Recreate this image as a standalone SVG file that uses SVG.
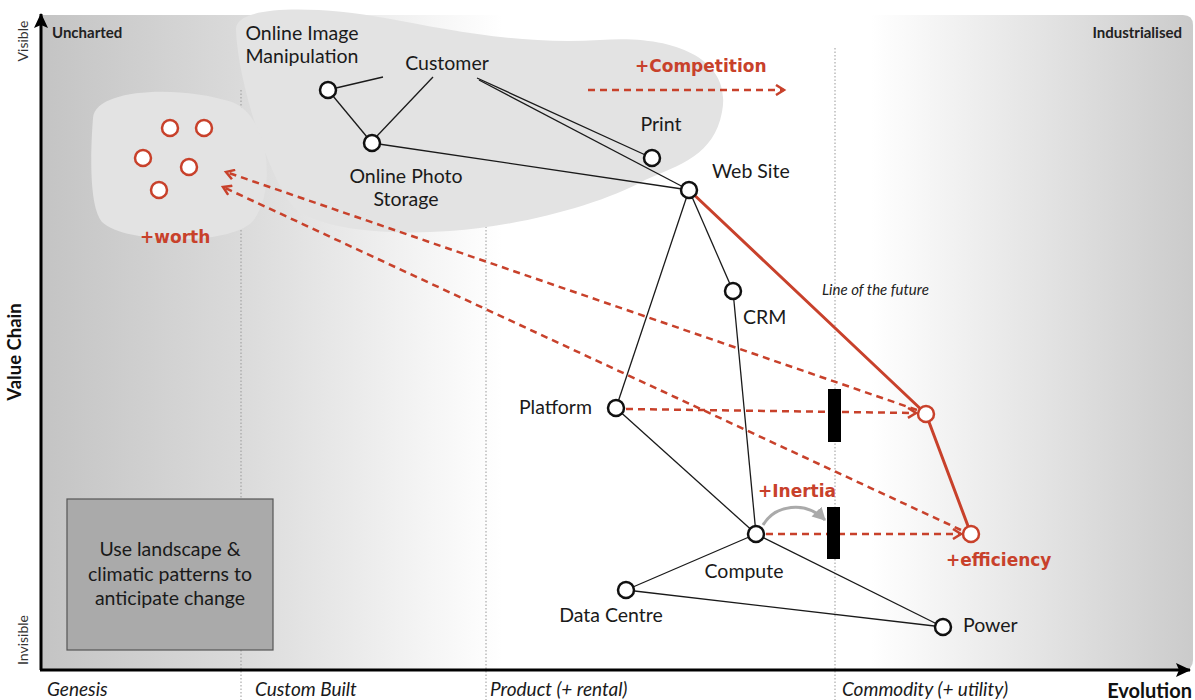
<svg xmlns="http://www.w3.org/2000/svg" width="1195" height="700" viewBox="0 0 1195 700">
<style>
.lbl{font-family:Lato,"Open Sans","DejaVu Sans",sans-serif;font-size:19.5px;fill:#1a1a1a}
.ax{font-family:Lato,"Open Sans","DejaVu Sans",sans-serif;font-size:19px;font-style:italic;fill:#1a1a1a}
.red{font-family:"DejaVu Sans","Liberation Sans",sans-serif;font-weight:bold;font-size:17px;fill:#c8412b}
.edge{stroke:#1a1a1a;stroke-width:1.3;fill:none}
.node{fill:#fff;stroke:#111;stroke-width:2.5}
.rnode{fill:#fff;stroke:#c8412b;stroke-width:2.5}
.dash{stroke:#c8412b;stroke-width:2.5;stroke-dasharray:7,5;fill:none}
.sep{stroke:#999;stroke-width:1;stroke-dasharray:1.5,2}
.corner{font-family:Lato,"Open Sans","DejaVu Sans",sans-serif;font-size:15px;font-weight:bold;fill:#222}
</style>
<defs>
<linearGradient id="bg" x1="42" y1="0" x2="1193" y2="0" gradientUnits="userSpaceOnUse">
<stop offset="0" stop-color="#c4c4c4"/>
<stop offset="0.17" stop-color="#dadada"/>
<stop offset="0.33" stop-color="#f4f4f4"/>
<stop offset="0.4" stop-color="#ffffff"/>
<stop offset="0.72" stop-color="#ffffff"/>
<stop offset="1" stop-color="#cbcbcb"/>
</linearGradient>
<marker id="ra" markerWidth="12" markerHeight="12" refX="9" refY="6" orient="auto" markerUnits="userSpaceOnUse">
<path d="M1,1 L9,6 L1,11" fill="none" stroke="#c8412b" stroke-width="2.5"/>
</marker>
<marker id="ga" markerWidth="16" markerHeight="16" refX="12" refY="8" orient="auto" markerUnits="userSpaceOnUse">
<path d="M0,1 L13,8 L0,15 Z" fill="#aaa"/>
</marker>
<marker id="ka" markerWidth="16" markerHeight="14" refX="14" refY="7" orient="auto" markerUnits="userSpaceOnUse">
<path d="M0,0 L15,7 L0,14 L3,7 Z" fill="#000"/>
</marker>
</defs>

<g id="background">
<path d="M42,15 H1183 Q1193,15 1193,25 V660 Q1193,670 1183,670 H42 Z" fill="url(#bg)"/>
<line class="sep" x1="241" y1="90" x2="241" y2="700"/>
<line class="sep" x1="486" y1="90" x2="486" y2="700"/>
<line class="sep" x1="835" y1="48" x2="835" y2="700"/>
<path id="blob-main" d="M236,30 C234,4 320,6 385,18 C450,30 520,45 600,40 C680,34 732,62 722,112 C714,155 680,165 645,180 C600,205 520,226 450,231 C380,236 312,228 292,205 C270,178 238,85 236,30 Z" fill="#e3e3e3"/>
<path id="blob-worth" d="M93,118 C95,88 180,85 232,102 C272,118 276,195 252,222 C228,246 125,244 102,222 C88,205 91,145 93,118 Z" fill="#e3e3e3"/>
</g>

<g id="axes">
<line x1="41" y1="670" x2="41" y2="14" stroke="#000" stroke-width="3" marker-end="url(#ka)"/>
<line x1="40" y1="670" x2="1190" y2="670" stroke="#000" stroke-width="3" marker-end="url(#ka)"/>
<text class="corner" x="52" y="38">Uncharted</text>
<text class="corner" x="1182" y="38" text-anchor="end">Industrialised</text>
<text x="24" y="41" transform="rotate(-90 24 41)" text-anchor="middle" dominant-baseline="middle" font-family="Lato,'Open Sans',sans-serif" font-size="14" fill="#333">Visible</text>
<text x="24" y="640" transform="rotate(-90 24 640)" text-anchor="middle" dominant-baseline="middle" font-family="Lato,'Open Sans',sans-serif" font-size="14" fill="#333">Invisible</text>
<text x="16" y="352" transform="rotate(-90 16 352)" text-anchor="middle" dominant-baseline="middle" font-family="Lato,'Open Sans',sans-serif" font-size="18.5" font-weight="bold" fill="#111">Value Chain</text>
<text class="ax" x="47" y="696">Genesis</text>
<text class="ax" x="255" y="696">Custom Built</text>
<text class="ax" x="490" y="696">Product (+ rental)</text>
<text class="ax" x="842" y="696">Commodity (+ utility)</text>
<text x="1192" y="698" text-anchor="end" font-family="Lato,'Open Sans',sans-serif" font-size="20" font-weight="bold" fill="#111">Evolution</text>
</g>

<g id="connectors">
<line class="edge" x1="383" y1="77" x2="336" y2="88"/>
<line class="edge" x1="433" y1="77" x2="377" y2="136"/>
<line class="edge" x1="477" y1="78" x2="652" y2="158"/>
<line class="edge" x1="479" y1="80" x2="689" y2="190"/>
<line class="edge" x1="328" y1="90" x2="372" y2="143"/>
<line class="edge" x1="372" y1="143" x2="689" y2="190"/>
<line class="edge" x1="689" y1="190" x2="616" y2="408"/>
<line class="edge" x1="689" y1="190" x2="733" y2="291"/>
<line class="edge" x1="733" y1="291" x2="756" y2="534"/>
<line class="edge" x1="616" y1="408" x2="756" y2="534"/>
<line class="edge" x1="756" y1="534" x2="626" y2="590"/>
<line class="edge" x1="756" y1="534" x2="943" y2="627"/>
<line class="edge" x1="626" y1="590" x2="943" y2="627"/>
<polyline points="689,190 926,414 971,534" fill="none" stroke="#c8412b" stroke-width="3"/>
<line class="dash" x1="588" y1="90" x2="784" y2="90" marker-end="url(#ra)"/>
<line class="dash" x1="917" y1="410" x2="226" y2="172" marker-end="url(#ra)"/>
<line class="dash" x1="961" y1="530" x2="223" y2="187" marker-end="url(#ra)"/>
<line class="dash" x1="626" y1="409" x2="916" y2="413" marker-end="url(#ra)"/>
<line class="dash" x1="766" y1="534" x2="961" y2="534" marker-end="url(#ra)"/>
<path d="M763,525 C775,505 805,500 825,520" fill="none" stroke="#aaa" stroke-width="3" marker-end="url(#ga)"/>
<rect x="828" y="389" width="13" height="53" fill="#000"/>
<rect x="827" y="507" width="13" height="52" fill="#000"/>
<text x="822" y="295" font-family="Lato,'Open Sans',sans-serif" font-size="15" font-style="italic" fill="#222">Line of the future</text>
</g>

<g id="worth">
<circle class="rnode" cx="170" cy="128" r="8"/>
<circle class="rnode" cx="204" cy="128" r="8"/>
<circle class="rnode" cx="143" cy="158" r="8"/>
<circle class="rnode" cx="189" cy="167" r="8"/>
<circle class="rnode" cx="159" cy="190" r="8"/>
<text class="red" x="140" y="243">+worth</text>
</g>
<g id="competition"><text class="red" x="635" y="72">+Competition</text></g>
<g id="inertia"><text class="red" x="758" y="497">+Inertia</text></g>

<g id="online-image-manipulation"><circle class="node" cx="328" cy="90" r="8"/><text class="lbl" x="302" y="40" text-anchor="middle">Online Image</text><text class="lbl" x="302" y="63" text-anchor="middle">Manipulation</text></g>
<g id="customer"><text class="lbl" x="447" y="70" text-anchor="middle">Customer</text></g>
<g id="online-photo-storage"><circle class="node" cx="372" cy="143" r="8"/><text class="lbl" x="406" y="183" text-anchor="middle">Online Photo</text><text class="lbl" x="406" y="206" text-anchor="middle">Storage</text></g>
<g id="print"><circle class="node" cx="652" cy="158" r="8"/><text class="lbl" x="661" y="131" text-anchor="middle">Print</text></g>
<g id="web-site"><circle class="node" cx="689" cy="190" r="8"/><text class="lbl" x="712" y="178">Web Site</text></g>
<g id="crm"><circle class="node" cx="733" cy="291" r="8"/><text class="lbl" x="743" y="324">CRM</text></g>
<g id="platform"><circle class="node" cx="616" cy="408" r="8"/><text class="lbl" x="592" y="414" text-anchor="end">Platform</text></g>
<g id="compute"><circle class="node" cx="756" cy="534" r="8"/><text class="lbl" x="744" y="578" text-anchor="middle">Compute</text></g>
<g id="data-centre"><circle class="node" cx="626" cy="590" r="8"/><text class="lbl" x="611" y="622" text-anchor="middle">Data Centre</text></g>
<g id="power"><circle class="node" cx="943" cy="627" r="8"/><text class="lbl" x="963" y="632">Power</text></g>
<g id="future-1"><circle class="rnode" cx="926" cy="414" r="8"/></g>
<g id="future-2"><circle class="rnode" cx="971" cy="534" r="8"/><text class="red" x="946" y="566">+efficiency</text></g>

<g id="note">
<rect x="67" y="499" width="206" height="151" fill="#aaaaaa" stroke="#555" stroke-width="1.2"/>
<text class="lbl" x="170" y="556" text-anchor="middle">Use landscape &amp;</text>
<text class="lbl" x="170" y="581" text-anchor="middle">climatic patterns to</text>
<text class="lbl" x="170" y="605" text-anchor="middle">anticipate change</text>
</g>
</svg>
